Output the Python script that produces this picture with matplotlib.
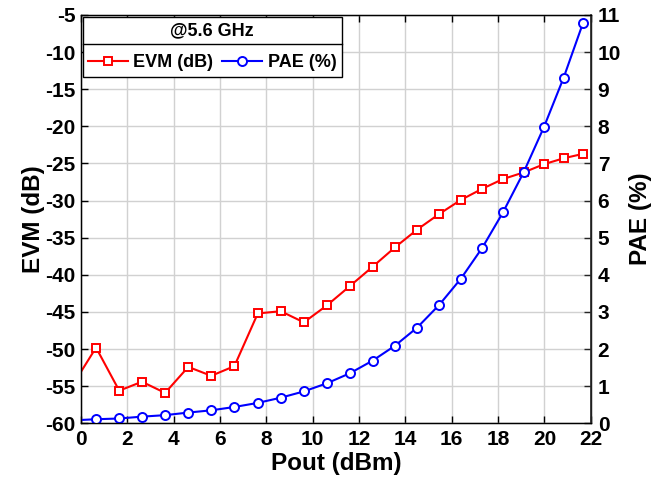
import matplotlib
matplotlib.use("Agg")
import matplotlib.pyplot as plt
from matplotlib.lines import Line2D

plt.rcParams["font.family"] = ["Liberation Sans", "DejaVu Sans"]
plt.rcParams["font.weight"] = "bold"
plt.rcParams["axes.unicode_minus"] = False

# Pout sweep (first point sits just left of the axis and is clipped)
pout = [-0.35, 0.65, 1.65, 2.63, 3.63, 4.63, 5.62, 6.62, 7.63, 8.62, 9.62,
        10.62, 11.61, 12.59, 13.55, 14.51, 15.46, 16.40, 17.32, 18.21,
        19.11, 19.98, 20.83, 21.67]
evm_db = [-54.8, -49.8, -55.6, -54.4, -55.9, -52.4, -53.6, -52.3, -45.2,
          -44.9, -46.4, -44.1, -41.5, -38.9, -36.3, -33.9, -31.8, -29.9,
          -28.4, -27.1, -26.2, -25.1, -24.3, -23.7]
pae_pct = [0.08, 0.11, 0.13, 0.18, 0.22, 0.29, 0.35, 0.44, 0.55, 0.69, 0.86,
           1.08, 1.35, 1.69, 2.09, 2.58, 3.19, 3.90, 4.73, 5.68, 6.77, 7.98,
           9.31, 10.79]

x_ticks = list(range(0, 23, 2))
evm_ticks = list(range(-60, -4, 5))
pae_ticks = list(range(0, 12))

fig = plt.figure(figsize=(6.59, 4.95), dpi=100)
ax = fig.add_axes([0.1229, 0.1448, 0.8964 - 0.1229, 0.9697 - 0.1448])
ax2 = ax.twinx()

ax.plot(pout, evm_db, "-s", color="red", lw=1.5, ms=5.5, mfc="white",
        mec="red", mew=1.4, label="EVM (dB)")
ax2.plot(pout, pae_pct, "-o", color="blue", lw=1.5, ms=6.5, mfc="white",
         mec="blue", mew=1.4, label="PAE (%)")

ax.set_xlim(0, 22)
ax.set_ylim(-60, -5)
ax2.set_ylim(0, 11)
ax.set_xticks(x_ticks)
ax.set_yticks(evm_ticks)
ax2.set_yticks(pae_ticks)

ax.grid(True, color="0.82", lw=1.0)
ax.set_axisbelow(True)

ax.tick_params(axis="x", direction="in", top=True, length=5, width=1,
               labelsize=15, pad=5)
ax.tick_params(axis="y", direction="in", right=False, length=5, width=1,
               labelsize=15, pad=4)
ax2.tick_params(axis="y", direction="in", length=5, width=1, labelsize=15,
                pad=5, color="0.15")
for sp in ax.spines.values():
    sp.set_linewidth(1.0)
ax2.spines["right"].set_color("0.15")
ax2.spines["right"].set_linewidth(1.2)

ax.set_xlabel("Pout (dBm)", fontsize=17.5, fontweight="bold", labelpad=2)
ax.set_ylabel("EVM (dB)", fontsize=17.5, fontweight="bold", labelpad=0)
ax2.set_ylabel("PAE (%)", fontsize=17.5, fontweight="bold", labelpad=6)

handles = [Line2D([], [], color="red", marker="s", lw=1.5, ms=5.5,
                  mfc="white", mec="red", mew=1.4),
           Line2D([], [], color="blue", marker="o", lw=1.5, ms=6.5,
                  mfc="white", mec="blue", mew=1.4)]
leg = ax2.legend(handles, ["EVM (dB)", "PAE (%)"], title="@5.6 GHz",
                 loc="upper left", bbox_to_anchor=(0, 1), borderaxespad=0.1,
                 ncol=2, fontsize=13,
                 title_fontproperties={"weight": "bold", "size": 13},
                 frameon=True, fancybox=False, edgecolor="black",
                 handlelength=2.2, handletextpad=0.3, columnspacing=0.5,
                 borderpad=0.3)
leg.get_frame().set_linewidth(1.0)
leg.get_frame().set_alpha(1.0)
leg._legend_box.sep = 11

# divider line between legend title and entries
fig.canvas.draw()
r = fig.canvas.get_renderer()
fb = leg.get_frame().get_window_extent(r)
tb = leg.get_title().get_window_extent(r)
ysep = (tb.y0 - 5) / fig.bbox.height
leg_line = Line2D([fb.x0 / fig.bbox.width, fb.x1 / fig.bbox.width], [ysep, ysep],
                  transform=fig.transFigure, color="black", lw=1.0, zorder=10)
fig.add_artist(leg_line)

fig.savefig("out.png", dpi=100)
